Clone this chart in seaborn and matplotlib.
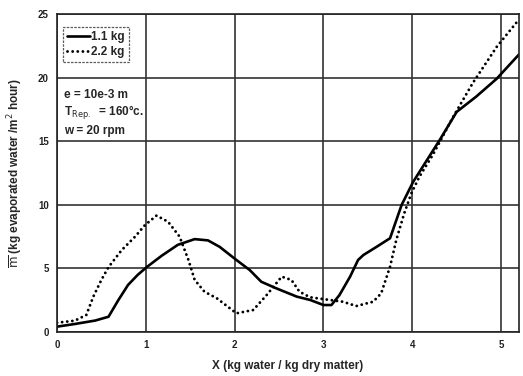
import numpy as np
import pandas as pd
import matplotlib
matplotlib.use("Agg")
import matplotlib.pyplot as plt
import seaborn as sns

# Drying rate curves for two load masses
x_11 = [0.0, 0.2, 0.43, 0.58, 0.69, 0.80, 0.91, 1.01, 1.18, 1.36, 1.55, 1.70, 1.83,
        2.02, 2.17, 2.30, 2.47, 2.70, 2.85, 3.0, 3.09, 3.18, 3.30, 3.39, 3.45, 3.60,
        3.75, 3.88, 4.01, 4.31, 4.50, 4.72, 4.95, 5.2]
y_11 = [0.42, 0.63, 0.9, 1.2, 2.5, 3.7, 4.5, 5.1, 6.0, 6.85, 7.3, 7.2, 6.7,
        5.66, 4.87, 3.95, 3.43, 2.78, 2.52, 2.12, 2.12, 2.9, 4.35, 5.66, 6.05, 6.7,
        7.37, 9.98, 11.8, 15.1, 17.3, 18.5, 19.9, 21.8]

x_22 = [0.0, 0.2, 0.33, 0.41, 0.5, 0.58, 0.73, 0.88, 0.99, 1.12, 1.25, 1.38, 1.48,
        1.55, 1.66, 1.80, 2.02, 2.21, 2.36, 2.53, 2.64, 2.73, 2.85, 3.07, 3.22, 3.37,
        3.56, 3.65, 3.75, 3.82, 3.91, 3.99, 4.08, 4.23, 4.46, 4.68, 4.95, 5.2]
y_22 = [0.73, 0.89, 1.34, 2.8, 4.1, 5.1, 6.45, 7.5, 8.4, 9.15, 8.67, 7.5, 5.66,
        4.1, 3.17, 2.65, 1.47, 1.73, 2.9, 4.35, 4.09, 3.17, 2.73, 2.52, 2.38, 2.04,
        2.38, 3.04, 5.13, 7.23, 9.33, 10.9, 12.2, 13.9, 16.9, 19.55, 22.4, 24.55]

series_names = ["1.1 kg", "2.2 kg"]
x_ticks = [0, 1, 2, 3, 4, 5]
y_ticks = [0, 5, 10, 15, 20, 25]

df = pd.concat([
    pd.DataFrame({"X": x_11, "rate": y_11, "load": series_names[0]}),
    pd.DataFrame({"X": x_22, "rate": y_22, "load": series_names[1]}),
], ignore_index=True)

sns.set_style("white")
plt.rcParams["font.family"] = ["Liberation Sans", "DejaVu Sans"]

fig = plt.figure(figsize=(5.23, 3.76), dpi=100)
ax = fig.add_axes([0.109, 0.117, 0.883, 0.846])

sns.lineplot(data=df, x="X", y="rate", hue="load", style="load",
             palette=["black", "black"], dashes=[(None, None), (0.8, 1.6)],
             sort=False, linewidth=1.8, ax=ax, legend=False)
lines = ax.get_lines()
lines[0].set_linewidth(1.9)
lines[0].set_solid_joinstyle("round")
lines[1].set_linewidth(2.1)
lines[1].set_linestyle((0, (0.01, 1.75)))
lines[1].set_dash_capstyle("round")

ax.set_xlim(0, 5.2)
ax.set_ylim(0, 25)
ax.set_xticks(x_ticks)
ax.set_yticks(y_ticks)
ax.grid(True, color="#333333", linewidth=1.2)
for s in ax.spines.values():
    s.set_color("#222222")
    s.set_linewidth(1.2)
ax.tick_params(length=0, labelsize=7, pad=6, colors="#222222")
for lab in ax.get_xticklabels() + ax.get_yticklabels():
    lab.set_fontweight("bold")

ax.set_xlabel("X (kg water / kg dry matter)", fontsize=8.5,
              fontweight="bold", labelpad=7)
ax.set_ylabel(r"$\overline{\mathrm{m}}$ (kg evaporated water /m$^2$ hour)",
              fontsize=8.5, fontweight="bold", labelpad=9)

leg = ax.legend(handles=lines, labels=series_names, loc="upper left",
                bbox_to_anchor=(0.012, 0.96), fontsize=8.5, frameon=True,
                fancybox=False, handlelength=2.0, handletextpad=0.1,
                borderpad=0.35, labelspacing=0.3, borderaxespad=0.0)
leg.get_frame().set_edgecolor("#333333")
leg.get_frame().set_linestyle((0, (2, 1)))
leg.get_frame().set_linewidth(0.9)
for t in leg.get_texts():
    t.set_fontweight("bold")

ax.text(0.015, 0.765, "e = 10e-3 m\n" + r"T$_{\mathrm{Rep.}}$  = 160°c." + "\nw = 20 rpm",
        transform=ax.transAxes, fontsize=8.5, fontweight="bold",
        va="top", ha="left", linespacing=1.3)

fig.savefig("out.png", dpi=100)
